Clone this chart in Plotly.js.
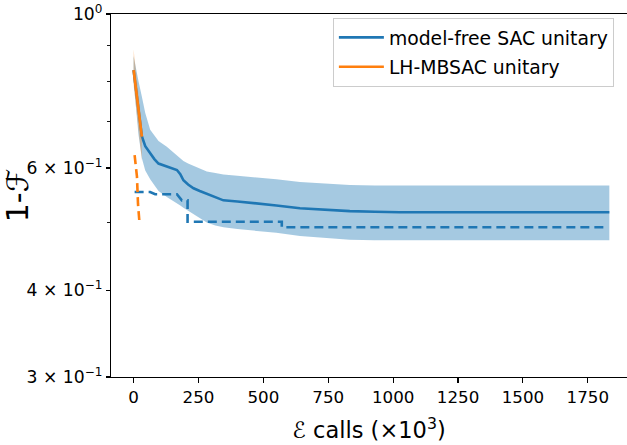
<!DOCTYPE html>
<html>
<head>
<meta charset="utf-8">
<script src="https://cdn.plot.ly/plotly-3.0.1.min.js"></script>
<style>
  html, body { margin: 0; padding: 0; background: #fff; }
  #chart { width: 627px; height: 445px; }
</style>
</head>
<body>
<div id="chart"></div>
<script>
// ---- data ----
// model-free SAC unitary: mean and band (x in units of 10^3 calls)
var mfX     = [0, 10, 19, 32, 45, 64, 80, 96, 128, 150, 167, 180, 192, 210, 231, 255, 282, 315, 346, 400, 449, 550, 641, 740, 833, 930, 1025, 1200, 1400, 1600, 1833];
var mfMean  = [0.830, 0.775, 0.735, 0.666, 0.645, 0.630, 0.618, 0.609, 0.603, 0.600, 0.596, 0.588, 0.576, 0.568, 0.561, 0.556, 0.551, 0.545, 0.539, 0.537, 0.535, 0.530, 0.525, 0.522, 0.520, 0.519, 0.518, 0.518, 0.518, 0.518, 0.518];
var mfUpper = [0.870, 0.830, 0.800, 0.760, 0.720, 0.681, 0.668, 0.656, 0.644, 0.633, 0.625, 0.618, 0.614, 0.609, 0.604, 0.598, 0.593, 0.590, 0.587, 0.585, 0.583, 0.578, 0.573, 0.570, 0.567, 0.566, 0.566, 0.566, 0.566, 0.566, 0.566];
var mfLower = [0.800, 0.720, 0.670, 0.620, 0.595, 0.578, 0.566, 0.556, 0.545, 0.539, 0.534, 0.530, 0.526, 0.521, 0.515, 0.508, 0.501, 0.496, 0.493, 0.490, 0.488, 0.484, 0.479, 0.476, 0.473, 0.472, 0.472, 0.472, 0.472, 0.472, 0.472];
// model-free SAC best (dashed)
var mfBestX = [4, 64, 83, 167, 186, 208, 208, 571, 571, 1815];
var mfBestY = [0.554, 0.554, 0.550, 0.550, 0.539, 0.539, 0.502, 0.502, 0.493, 0.493];

// LH-MBSAC unitary
var lhX     = [0, 13, 23, 32];
var lhMean  = [0.830, 0.760, 0.703, 0.666];
var lhUpper = [0.890, 0.800, 0.740, 0.690];
var lhLower = [0.790, 0.720, 0.660, 0.615];
// LH-MBSAC best (dashed)
var lhBestX = [4, 13, 17, 23];
var lhBestY = [0.626, 0.583, 0.533, 0.499];

// tick labels
var yTickVals = [0.3, 0.4, 0.6, 1.0];
var yTickText = ['3 × 10<sup>−1</sup>', '4 × 10<sup>−1</sup>', '6 × 10<sup>−1</sup>', '10<sup>0</sup>'];
var yMinorVals = [0.5, 0.7, 0.8, 0.9];
var xTickVals = [0, 250, 500, 750, 1000, 1250, 1500, 1750];

var blue = '#1f77b4', orange = '#ff7f0e';

var traces = [
  {x: mfX, y: mfUpper, mode: 'lines', line: {width: 0}, showlegend: false, hoverinfo: 'skip'},
  {x: mfX, y: mfLower, mode: 'lines', line: {width: 0}, fill: 'tonexty', fillcolor: 'rgba(31,119,180,0.4)', showlegend: false, hoverinfo: 'skip'},
  {x: mfX, y: mfMean, mode: 'lines', name: 'model-free SAC unitary', line: {color: blue, width: 2.6}, legendgroup: 'a'},
  {x: mfBestX, y: mfBestY, mode: 'lines', line: {color: blue, width: 2.6, dash: '9px,5px'}, showlegend: false},
  {x: lhX, y: lhUpper, mode: 'lines', line: {width: 0}, showlegend: false, hoverinfo: 'skip'},
  {x: lhX, y: lhLower, mode: 'lines', line: {width: 0}, fill: 'tonexty', fillcolor: 'rgba(255,127,14,0.3)', showlegend: false, hoverinfo: 'skip'},
  {x: lhX, y: lhMean, mode: 'lines', name: 'LH-MBSAC unitary', line: {color: orange, width: 2.6}, legendgroup: 'b'},
  {x: lhBestX, y: lhBestY, mode: 'lines', line: {color: orange, width: 2.6, dash: '9px,5px'}, showlegend: false}
];

var fontFam = 'DejaVu Sans, sans-serif';

var layout = {
  width: 627, height: 445,
  margin: {l: 110.5, r: 0, t: 14, b: 68, pad: 0},
  paper_bgcolor: '#fff', plot_bgcolor: '#fff',
  font: {family: fontFam, color: '#000', size: 16.7},
  showlegend: true,
  legend: {
    x: 0.43, y: 0.99, xanchor: 'left', yanchor: 'top',
    bgcolor: 'rgba(255,255,255,0.8)', bordercolor: '#cccccc', borderwidth: 1,
    font: {family: fontFam, size: 18.8, color: '#000'},
    traceorder: 'grouped', tracegroupgap: 2, itemwidth: 45
  },
  xaxis: {
    range: [-87, 1901], showgrid: false, zeroline: false,
    showline: true, linecolor: '#000', linewidth: 1.1, mirror: true,
    ticks: 'outside', ticklen: 5, tickwidth: 1.1, tickcolor: '#000',
    tickmode: 'array', tickvals: xTickVals,
    tickfont: {size: 16.7},
    title: {text: 'ℰ calls (×10<sup>3</sup>)', font: {size: 22.5}, standoff: 16}
  },
  yaxis: {
    type: 'log', range: [Math.log10(0.3), 0], showgrid: false, zeroline: false,
    showline: true, linecolor: '#000', linewidth: 1.1, mirror: true,
    ticks: 'outside', ticklen: 4, tickwidth: 1.1, tickcolor: '#000',
    tickmode: 'array', tickvals: yTickVals, ticktext: yTickText,
    tickfont: {size: 17.2}, ticklabeloverflow: 'allow',
    minor: {tickmode: 'array', tickvals: yMinorVals, ticks: 'outside', ticklen: 3, tickwidth: 0.9, tickcolor: '#000', showgrid: false},
    title: {text: '1-ℱ', font: {size: 30}, standoff: 4}
  }
};

Plotly.newPlot('chart', traces, layout, {displayModeBar: false, staticPlot: true});
</script>
</body>
</html>
